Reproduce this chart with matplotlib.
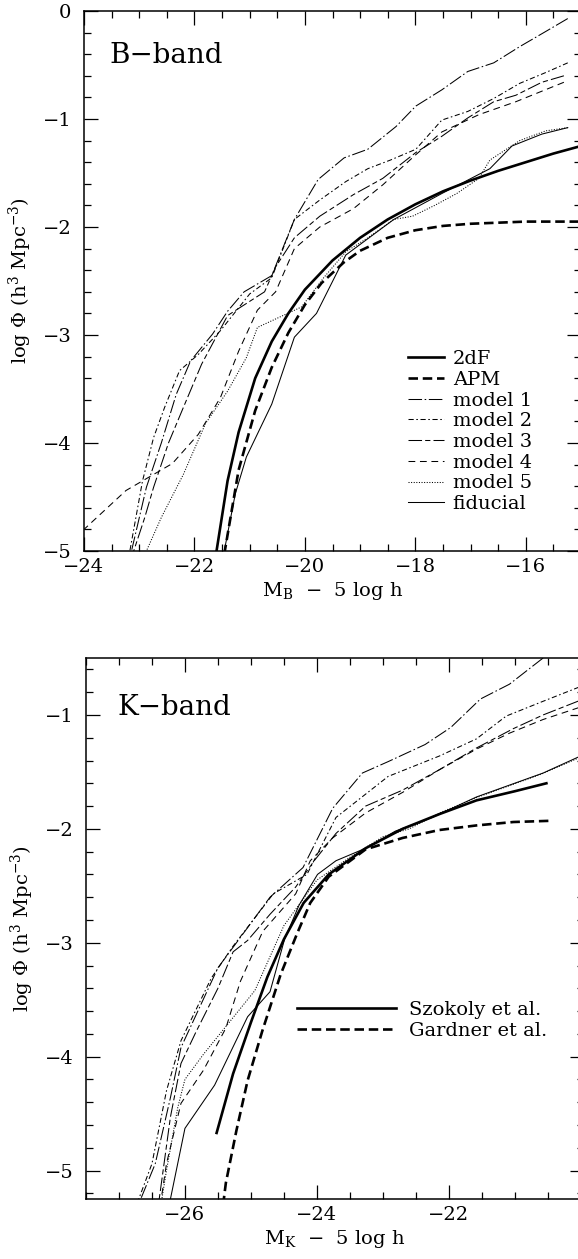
"""
Galaxy luminosity functions in the B and K bands: data fits (2dF/APM,
Szokoly/Gardner) against five model variants and the fiducial model.
"""

import matplotlib
matplotlib.use("Agg")
import matplotlib.pyplot as plt
from matplotlib.ticker import MultipleLocator, FuncFormatter

plt.rcParams["font.family"] = ["DejaVu Serif"]
plt.rcParams["mathtext.fontset"] = "dejavuserif"

# ---------------------------------------------------------------------------
# B-band (top panel): magnitude and log Phi
# ---------------------------------------------------------------------------

b_2df_m = [-15.0, -15.5, -16.0, -16.5, -17.0, -17.5, -18.0, -18.5, -19.0, -19.5,
           -20.0, -20.3, -20.6, -20.9, -21.2, -21.4, -21.6]
b_2df_phi = [-1.25, -1.32, -1.40, -1.48, -1.57, -1.67, -1.79, -1.93, -2.10, -2.31,
             -2.58, -2.80, -3.06, -3.40, -3.90, -4.35, -5.0]

b_apm_m = [-15.0, -16.0, -17.0, -17.5, -18.0, -18.5, -19.0, -19.3, -19.7, -20.0,
           -20.3, -20.6, -20.9, -21.2, -21.45]
b_apm_phi = [-1.95, -1.95, -1.97, -1.99, -2.03, -2.10, -2.22, -2.33, -2.52, -2.72,
             -2.98, -3.30, -3.70, -4.25, -5.0]

b_m1_m = [-15.24, -15.64, -16.11, -16.58, -17.05, -17.52, -17.99, -18.35, -18.86,
          -19.29, -19.76, -20.19, -20.6, -21.1, -21.4, -21.67, -22.07, -22.33,
          -22.6, -22.87, -23.14]
b_m1_phi = [-0.07, -0.19, -0.33, -0.48, -0.56, -0.73, -0.88, -1.07, -1.28,
            -1.36, -1.56, -1.93, -2.45, -2.6, -2.78, -2.99, -3.24, -3.55,
            -4.0, -4.41, -5.0]

b_m2_m = [-15.24, -15.64, -16.11, -16.58, -17.05, -17.52, -17.99, -18.45, -18.86,
          -19.26, -19.73, -20.19, -20.6, -21.0, -21.53, -21.93, -22.27, -22.54,
          -22.74, -22.94, -23.17]
b_m2_phi = [-0.48, -0.57, -0.67, -0.81, -0.93, -1.01, -1.28, -1.38, -1.46,
            -1.58, -1.75, -1.93, -2.47, -2.62, -2.96, -3.18, -3.33, -3.67,
            -3.95, -4.35, -5.0]

b_m3_m = [-15.31, -15.71, -16.18, -16.58, -17.05, -17.52, -17.99, -18.59, -19.12,
          -19.73, -20.19, -20.53, -20.73, -21.4, -21.87, -22.2, -22.47, -22.74,
          -22.9, -23.1]
b_m3_phi = [-0.60, -0.66, -0.78, -0.84, -0.99, -1.16, -1.31, -1.55, -1.70,
            -1.90, -2.10, -2.37, -2.60, -2.82, -3.27, -3.67, -4.0, -4.41,
            -4.69, -5.0]

b_m4_m = [-15.31, -16.18, -16.85, -17.52, -17.99, -18.59, -19.12, -19.73, -20.19,
          -20.53, -20.86, -21.2, -21.53, -21.93, -22.4, -23.24, -24.0]
b_m4_phi = [-0.66, -0.84, -0.96, -1.12, -1.33, -1.61, -1.83, -2.0, -2.2,
            -2.6, -2.77, -3.15, -3.58, -3.92, -4.19, -4.44, -4.8]

b_m5_m = [-15.24, -15.64, -16.11, -16.65, -16.85, -17.25, -17.65, -18.05, -18.39,
          -18.86, -19.26, -19.66, -20.06, -20.86, -21.06, -21.4, -21.8, -22.2,
          -22.6, -22.87]
b_m5_phi = [-1.08, -1.11, -1.20, -1.38, -1.55, -1.69, -1.80, -1.90, -1.93,
            -2.10, -2.23, -2.47, -2.74, -2.93, -3.21, -3.52, -3.82, -4.29,
            -4.69, -5.0]

b_fid_m = [-15.24, -15.71, -16.25, -16.65, -17.52, -18.39, -19.26, -19.79, -20.19,
           -20.6, -21.06, -21.26, -21.46]
b_fid_phi = [-1.08, -1.14, -1.25, -1.46, -1.69, -1.93, -2.26, -2.8, -3.02,
             -3.64, -4.13, -4.47, -5.0]

# ---------------------------------------------------------------------------
# K-band (bottom panel)
# ---------------------------------------------------------------------------

k_szok_m = [-20.52, -21.0, -21.58, -22.14, -22.7, -23.26, -23.82, -24.2, -24.5,
            -24.75, -25.0, -25.27, -25.52]
k_szok_phi = [-1.60, -1.67, -1.75, -1.87, -2.00, -2.17, -2.40, -2.65, -2.97,
              -3.30, -3.70, -4.15, -4.67]

k_gard_m = [-20.49, -21.02, -21.58, -22.14, -22.7, -23.26, -23.82, -24.1, -24.3,
            -24.55, -24.83, -25.05, -25.22, -25.38, -25.41]
k_gard_phi = [-1.93, -1.94, -1.97, -2.01, -2.08, -2.18, -2.42, -2.65, -2.92,
              -3.28, -3.78, -4.21, -4.65, -5.11, -5.25]

k_m1_m = [-20.57, -21.08, -21.52, -21.97, -22.36, -22.92, -23.31, -23.76, -24.21,
          -24.71, -25.27, -25.5, -26.06, -26.22, -26.45, -26.67]
k_m1_phi = [-0.5, -0.73, -0.86, -1.11, -1.26, -1.41, -1.51, -1.82, -2.34,
            -2.6, -3.04, -3.22, -3.92, -4.36, -4.94, -5.25]

k_m2_m = [-20.0, -20.57, -21.13, -21.58, -22.14, -22.92, -23.71, -24.15, -24.66,
          -25.27, -25.6, -26.06, -26.28, -26.5, -26.7]
k_m2_phi = [-0.75, -0.88, -1.01, -1.21, -1.36, -1.54, -1.90, -2.40, -2.57,
            -3.03, -3.31, -3.86, -4.30, -4.94, -5.25]

k_m3_m = [-20.0, -20.57, -21.02, -21.58, -22.14, -22.7, -23.26, -23.71, -24.04,
          -24.32, -24.71, -25.05, -25.27, -25.5, -25.83, -26.06, -26.22, -26.39]
k_m3_phi = [-0.87, -1.0, -1.12, -1.29, -1.48, -1.66, -1.80, -2.04, -2.28,
            -2.51, -2.75, -2.98, -3.08, -3.40, -3.78, -4.06, -4.53, -5.25]

k_m4_m = [-20.0, -20.57, -21.08, -21.58, -22.14, -22.7, -23.26, -23.76, -24.1,
          -24.32, -24.82, -25.16, -25.38, -25.72, -26.06, -26.28, -26.36]
k_m4_phi = [-0.93, -1.04, -1.16, -1.30, -1.48, -1.68, -1.86, -2.08, -2.28,
            -2.57, -2.90, -3.34, -3.75, -4.12, -4.41, -4.94, -5.25]

k_m5_m = [-20.0, -20.6, -21.6, -22.1, -22.6, -23.0, -23.5, -24.0, -24.5,
          -24.94, -25.4, -25.72, -26.0, -26.11, -26.28, -26.35]
k_m5_phi = [-1.37, -1.52, -1.73, -1.85, -2.0, -2.07, -2.25, -2.45, -2.85,
            -3.42, -3.75, -3.98, -4.2, -4.45, -5.0, -5.25]

k_fid_m = [-20.0, -20.57, -21.58, -22.25, -22.81, -23.26, -23.71, -23.99, -24.27,
           -24.49, -24.71, -25.05, -25.55, -26.0, -26.22]
k_fid_phi = [-1.36, -1.51, -1.72, -1.90, -2.02, -2.17, -2.28, -2.40, -2.67,
             -2.97, -3.43, -3.65, -4.25, -4.63, -5.25]

# ---------------------------------------------------------------------------
# Line styles
# ---------------------------------------------------------------------------

THIN = 0.75
THICK = 1.9
DATA_DASH = (0, (3.6, 1.8))
STYLE = {
    "model 1": dict(color="black", lw=THIN, ls=(0, (13, 2.5, 1.5, 2.5))),
    "model 2": dict(color="black", lw=THIN, ls=(0, (5, 2.5, 1.5, 2.5))),
    "model 3": dict(color="black", lw=THIN, ls=(0, (13, 3, 5, 3))),
    "model 4": dict(color="black", lw=THIN, ls=(0, (6.5, 4.5))),
    "model 5": dict(color="black", lw=THIN, ls=(0, (1, 1.5))),
    "fiducial": dict(color="black", lw=THIN, ls="-"),
}


def style_axes(ax, xmax_label):
    ax.xaxis.set_major_locator(MultipleLocator(2))
    ax.xaxis.set_minor_locator(MultipleLocator(0.5))
    ax.yaxis.set_major_locator(MultipleLocator(1))
    ax.yaxis.set_minor_locator(MultipleLocator(0.2))
    # no label for a major tick that sits on the (cut) right edge
    ax.xaxis.set_major_formatter(FuncFormatter(
        lambda v, p: "" if v > xmax_label else f"\u2212{abs(v):.0f}"))
    ax.yaxis.set_major_formatter(FuncFormatter(
        lambda v, p: "0" if abs(v) < 1e-9 else f"\u2212{abs(v):.0f}"))
    ax.tick_params(which="both", direction="in", top=True, right=True,
                   labelsize=14, width=0.9)
    ax.tick_params(which="major", length=10)
    ax.tick_params(which="minor", length=5)
    ax.tick_params(axis="x", which="major", pad=5)
    ax.tick_params(axis="y", which="major", pad=9)
    for sp in ax.spines.values():
        sp.set_linewidth(1.1)
    ax.set_ylabel(r"log $\Phi$ (h$^3$ Mpc$^{-3}$)", fontsize=14, labelpad=6)


fig = plt.figure(figsize=(5.78, 12.59), dpi=100)

# --- B-band ---
ax1 = fig.add_axes([84 / 578, 1 - 551 / 1259, 497 / 578, 540 / 1259])
ax1.plot(b_2df_m, b_2df_phi, color="black", lw=THICK, ls="-", label="2dF")
ax1.plot(b_apm_m, b_apm_phi, color="black", lw=THICK, ls=DATA_DASH, label="APM")
ax1.plot(b_m1_m, b_m1_phi, label="model 1", **STYLE["model 1"])
ax1.plot(b_m2_m, b_m2_phi, label="model 2", **STYLE["model 2"])
ax1.plot(b_m3_m, b_m3_phi, label="model 3", **STYLE["model 3"])
ax1.plot(b_m4_m, b_m4_phi, label="model 4", **STYLE["model 4"])
ax1.plot(b_m5_m, b_m5_phi, label="model 5", **STYLE["model 5"])
ax1.plot(b_fid_m, b_fid_phi, label="fiducial", **STYLE["fiducial"])
ax1.set_xlim(-24, -15)
ax1.set_ylim(-5, 0)
style_axes(ax1, -15.5)
ax1.set_xlabel(r"M$_{\rm B}$  $-$  5 log h", fontsize=14, labelpad=3)
ax1.text(0.052, 0.918, "B\u2212band", transform=ax1.transAxes, fontsize=20,
         ha="left", va="center")
ax1.legend(loc="upper left", bbox_to_anchor=(0.652, 0.372), frameon=False,
           fontsize=14, handlelength=1.85, handletextpad=0.45, labelspacing=0.14,
           borderpad=0, borderaxespad=0)

# --- K-band ---
ax2 = fig.add_axes([86 / 578, 1 - 1199 / 1259, 498 / 578, 541 / 1259])
ax2.plot(k_szok_m, k_szok_phi, color="black", lw=THICK, ls="-", label="Szokoly et al.")
ax2.plot(k_gard_m, k_gard_phi, color="black", lw=THICK, ls=DATA_DASH,
         label="Gardner et al.")
ax2.plot(k_m1_m, k_m1_phi, **STYLE["model 1"])
ax2.plot(k_m2_m, k_m2_phi, **STYLE["model 2"])
ax2.plot(k_m3_m, k_m3_phi, **STYLE["model 3"])
ax2.plot(k_m4_m, k_m4_phi, **STYLE["model 4"])
ax2.plot(k_m5_m, k_m5_phi, **STYLE["model 5"])
ax2.plot(k_fid_m, k_fid_phi, **STYLE["fiducial"])
ax2.set_xlim(-27.5, -19.95)
ax2.set_ylim(-5.25, -0.5)
style_axes(ax2, -21)
ax2.set_xlabel(r"M$_{\rm K}$  $-$  5 log h", fontsize=14, labelpad=3)
ax2.text(0.064, 0.909, "K\u2212band", transform=ax2.transAxes, fontsize=20,
         ha="left", va="center")
ax2.legend(loc="upper left", bbox_to_anchor=(0.424, 0.366), frameon=False,
           fontsize=14, handlelength=5.1, handletextpad=0.65, labelspacing=0.14,
           borderpad=0, borderaxespad=0)

fig.savefig("out.png", dpi=100)
